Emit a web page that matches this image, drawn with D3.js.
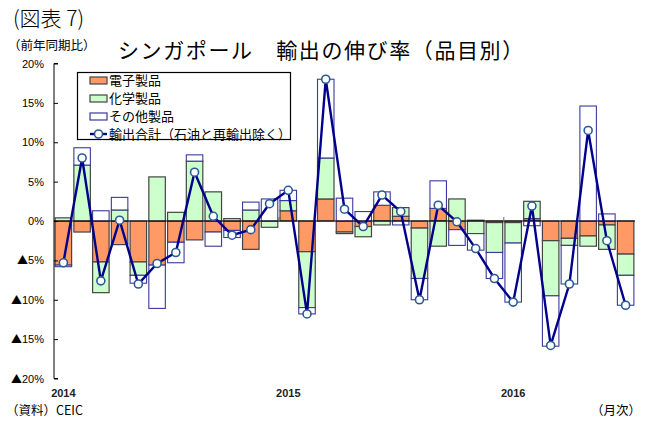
<!DOCTYPE html>
<html>
<head>
<meta charset="utf-8">
<script src="https://cdn.jsdelivr.net/npm/d3@7"></script>
<style>
  body { margin: 0; background: #fff; }
  text { font-family: "Noto Sans CJK JP", "Liberation Sans", sans-serif; fill: #000; }
  .tick-y { font-family: "Liberation Sans Narrow", "Liberation Sans", sans-serif; font-size: 11px; }
</style>
</head>
<body>
<svg width="646" height="421"></svg>
<script>
// monthly, Jan 2014 - Jul 2016
var months = ["2014-01","2014-02","2014-03","2014-04","2014-05","2014-06","2014-07","2014-08","2014-09","2014-10","2014-11","2014-12",
              "2015-01","2015-02","2015-03","2015-04","2015-05","2015-06","2015-07","2015-08","2015-09","2015-10","2015-11","2015-12",
              "2016-01","2016-02","2016-03","2016-04","2016-05","2016-06","2016-07"];
// contributions (% pt)
var electronics = [-5.6, -1.4, -5.2, -3.0, -5.2, -5.6, -2.7, -2.4, -1.4, -1.2, -3.6, 0.0,
                   1.3, -3.9, 2.8, -1.4, -0.7, 2.0, 0.6, -0.9, 1.6, -1.1, 0.1, -0.2,
                   -0.2, 0.3, -2.5, -2.2, -1.9, -0.5, -4.2];
var chemicals = [0.4, 7.1, -3.9, 1.4, -1.7, 5.6, 1.1, 7.6, 3.7, 0.3, 1.4, -0.8,
                 1.3, -7.1, 5.2, -0.2, -1.3, -0.5, 1.1, -6.4, -3.2, 2.8, -1.6, -3.8,
                 -2.6, 2.2, -7.0, -0.9, -1.3, -3.1, -2.7];
var others = [-0.2, 2.2, 1.3, 1.6, -1.0, -5.5, -2.6, 0.8, -1.8, -0.9, 1.0, 2.8,
              1.3, -0.8, 10.0, 2.9, 1.2, 1.7, -0.5, -2.7, 3.5, -2.0, -2.1, -3.3,
              -7.5, -0.6, -6.4, -4.9, 14.6, 0.9, -3.8];
// total (excl. oil and re-exports)
var total = [-5.3, 8.0, -7.6, 0.1, -8.0, -5.4, -4.0, 6.2, 0.6, -1.8, -1.1, 2.2,
             3.9, -11.8, 18.0, 1.5, -0.7, 3.3, 1.2, -10.0, 2.0, -0.1, -3.5, -7.3,
             -10.3, 1.9, -15.8, -8.0, 11.5, -2.5, -10.7];
var yearLabels = ["2014", "2015", "2016"];
var yTicks = [20, 15, 10, 5, 0, -5, -10, -15, -20];

var keys = ["electronics", "chemicals", "others"];
var names = { electronics: "電子製品", chemicals: "化学製品", others: "その他製品" };
var fills = { electronics: "#ff9966", chemicals: "#ccffcc", others: "#ffffff" };
var strokes = { electronics: "#444", chemicals: "#444", others: "#3a3a9c" };

var rows = months.map(function (m, i) {
    return { month: m, electronics: electronics[i], chemicals: chemicals[i], others: others[i], total: total[i] };
});

var svg = d3.select("svg");

var x = d3.scaleBand().domain(months).range([54, 635]).paddingInner(0.12).paddingOuter(0.06);
var y = d3.scaleLinear().domain([-20, 20]).range([378.5, 63.5]);

var series = d3.stack().keys(keys).offset(d3.stackOffsetDiverging)(rows);

// bars
svg.append("g").selectAll("g")
    .data(series)
    .enter().append("g")
    .attr("fill", function (d) { return fills[d.key]; })
    .attr("stroke", function (d) { return strokes[d.key]; })
    .attr("stroke-width", function (d) { return d.key == "others" ? 1.1 : 1.2; })
    .selectAll("rect")
    .data(function (d) { return d; })
    .enter().append("rect")
    .attr("x", function (d) { return x(d.data.month); })
    .attr("width", x.bandwidth())
    .attr("y", function (d) { return y(Math.max(d[0], d[1])); })
    .attr("height", function (d) { return Math.abs(y(d[0]) - y(d[1])); });

// zero line
svg.append("line")
    .attr("x1", 54).attr("x2", 635)
    .attr("y1", y(0)).attr("y2", y(0))
    .attr("stroke", "#000").attr("stroke-width", 1.2);

// year boundary ticks on zero line
months.forEach(function (m) {
    if (m.slice(5) == "01" && m != months[0]) {
        var bx = x(m) - x.step() * x.paddingInner() / 2;
        svg.append("line")
            .attr("x1", bx).attr("x2", bx)
            .attr("y1", y(0)).attr("y2", y(0) - 4)
            .attr("stroke", "#666").attr("stroke-width", 1);
    }
});

// y axis
var yAxis = d3.axisRight(y).tickValues(yTicks).tickSize(4).tickFormat("");
svg.append("g")
    .attr("transform", "translate(54,0)")
    .call(yAxis)
    .call(function (g) {
        g.select(".domain").attr("stroke", "#000").attr("d", "M4," + y(20) + "H0V" + y(-20) + "H4");
        g.selectAll(".tick line").attr("stroke", "#000");
    });

var yl = svg.append("g").selectAll("text")
    .data(yTicks)
    .enter().append("text")
    .attr("class", "tick-y")
    .attr("x", 44)
    .attr("y", function (d) { return y(d) + 4; })
    .attr("text-anchor", "end");
yl.filter(function (d) { return d < 0; })
    .append("tspan")
    .style("font-family", "'Noto Sans CJK JP', sans-serif")
    .style("font-size", "11px")
    .text("▲");
yl.append("tspan")
    .text(function (d) { return Math.abs(d) + "%"; });

// x labels
svg.append("g").selectAll("text")
    .data(yearLabels)
    .enter().append("text")
    .attr("x", function (d) { return x(d + "-01") + x.bandwidth() / 2; })
    .attr("y", 397)
    .attr("text-anchor", "middle")
    .style("font-family", "'Liberation Sans', sans-serif")
    .style("font-size", "11px")
    .style("font-weight", "bold")
    .style("fill", "#222")
    .text(function (d) { return d; });

// total line
var line = d3.line()
    .x(function (d) { return x(d.month) + x.bandwidth() / 2; })
    .y(function (d) { return y(d.total); });

svg.append("path")
    .datum(rows)
    .attr("d", line)
    .attr("fill", "none")
    .attr("stroke", "#00008b")
    .attr("stroke-width", 2.4);

svg.append("g").selectAll("circle")
    .data(rows)
    .enter().append("circle")
    .attr("cx", function (d) { return x(d.month) + x.bandwidth() / 2; })
    .attr("cy", function (d) { return y(d.total); })
    .attr("r", 4)
    .attr("fill", "#fff")
    .attr("stroke", "#2a5a96")
    .attr("stroke-width", 1.6);

// legend
var lg = svg.append("g");
lg.append("rect")
    .attr("x", 77.5).attr("y", 72.5).attr("width", 213).attr("height", 67)
    .attr("fill", "#fff").attr("stroke", "#000").attr("stroke-width", 1.2);

keys.forEach(function (k, i) {
    var yy = 80.5 + i * 18;
    lg.append("rect")
        .attr("x", 90).attr("y", yy - 3.5).attr("width", 17).attr("height", 7)
        .attr("fill", fills[k]).attr("stroke", strokes[k]).attr("stroke-width", 1.2);
    lg.append("text")
        .attr("x", 109).attr("y", yy + 4.5)
        .style("font-size", "13px")
        .text(names[k]);
});
lg.append("line")
    .attr("x1", 90).attr("x2", 107).attr("y1", 134).attr("y2", 134)
    .attr("stroke", "#00008b").attr("stroke-width", 2.4);
lg.append("circle")
    .attr("cx", 98.5).attr("cy", 134).attr("r", 4)
    .attr("fill", "#fff").attr("stroke", "#2a5a96").attr("stroke-width", 1.6);
lg.append("text")
    .attr("x", 109).attr("y", 138.5)
    .style("font-size", "13px")
    .text("輸出合計（石油と再輸出除く）");

// titles and notes
svg.append("text")
    .attr("x", 13).attr("y", 26)
    .style("font-size", "21px")
    .style("font-weight", "300")
    .text("(図表 7)");

svg.append("text")
    .attr("x", 118).attr("y", 58)
    .style("font-size", "21px")
    .style("letter-spacing", "1.6px")
    .text("シンガポール　輸出の伸び率（品目別）");

svg.append("text")
    .attr("x", 8).attr("y", 50)
    .style("font-size", "12.5px")
    .text("（前年同期比）");

svg.append("text")
    .attr("x", 6).attr("y", 415)
    .style("font-size", "12.5px")
    .text("（資料）CEIC");

svg.append("text")
    .attr("x", 641).attr("y", 415)
    .attr("text-anchor", "end")
    .style("font-size", "12.5px")
    .text("（月次）");
</script>
</body>
</html>
